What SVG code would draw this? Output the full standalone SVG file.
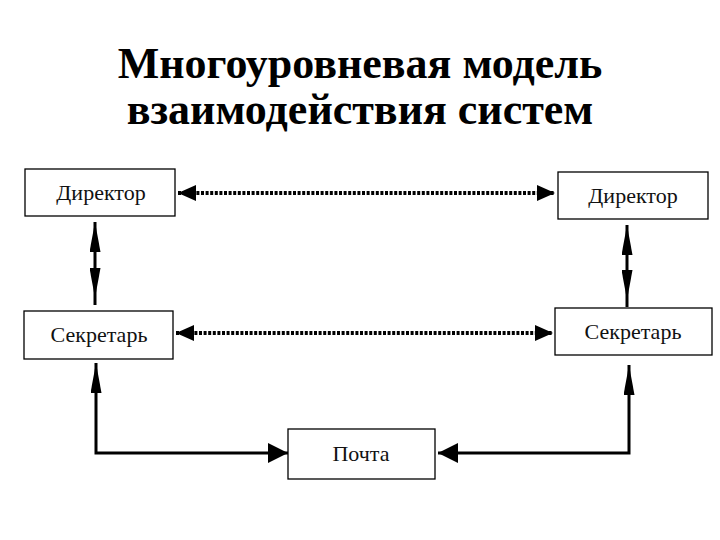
<svg xmlns="http://www.w3.org/2000/svg" width="720" height="540" viewBox="0 0 720 540">
<style>
.box{fill:#fff;stroke:#000;stroke-width:1.3}
.lbl{font-family:"Liberation Serif","Times New Roman",serif;font-size:22px;fill:#111;text-anchor:middle}
.title{font-family:"Liberation Serif","Times New Roman",serif;font-size:44px;font-weight:bold;fill:#000;text-anchor:middle}
.dot{fill:none;stroke:#000;stroke-width:4;stroke-dasharray:3 1.6}
.sol{fill:none;stroke:#000;stroke-width:3}
</style>
<defs>
<marker id="hd" markerUnits="userSpaceOnUse" markerWidth="18" markerHeight="16" refX="18" refY="8" orient="auto-start-reverse" viewBox="0 0 18 16">
<path d="M0,0 L18,8 L0,16 z" fill="#000"/>
</marker>
<marker id="hv" markerUnits="userSpaceOnUse" markerWidth="30" markerHeight="11" refX="30" refY="5.5" orient="auto-start-reverse" viewBox="0 0 30 11">
<path d="M0,0 L30,5.5 L0,11 z" fill="#000"/>
</marker>
<marker id="hb" markerUnits="userSpaceOnUse" markerWidth="20" markerHeight="20" refX="20" refY="10" orient="auto-start-reverse" viewBox="0 0 20 20">
<path d="M0,0 L20,10 L0,20 z" fill="#000"/>
</marker>
</defs>
<text class="title" x="360" y="78">Многоуровневая модель</text>
<text class="title" x="360" y="124">взаимодействия систем</text>
<g id="connectors">
<path class="dot" d="M178,193 L555,193" marker-start="url(#hd)" marker-end="url(#hd)"/>
<path class="dot" d="M176,333 L553,333" marker-start="url(#hd)" marker-end="url(#hd)"/>
<path class="sol" d="M95,222 L95,298 L95,305" marker-start="url(#hv)" marker-mid="url(#hv)"/>
<path class="sol" d="M627,225 L627,300 L627,307" marker-start="url(#hv)" marker-mid="url(#hv)"/>
<path class="sol" d="M96,363 L96,453 L288,453" stroke-width="4" marker-start="url(#hv)" marker-end="url(#hb)"/>
<path class="sol" d="M629,365 L629,453 L438,453" stroke-width="6" marker-start="url(#hv)" marker-end="url(#hb)"/>
</g>
<g id="dir-left"><rect class="box" x="25" y="169" width="150" height="47"/><text class="lbl" x="101" y="200">Директор</text></g>
<g id="sec-left"><rect class="box" x="24" y="311" width="149" height="48"/><text class="lbl" x="99" y="342">Секретарь</text></g>
<g id="dir-right"><rect class="box" x="558" y="172" width="150" height="47"/><text class="lbl" x="633" y="203">Директор</text></g>
<g id="sec-right"><rect class="box" x="555" y="308" width="157" height="47"/><text class="lbl" x="633" y="339">Секретарь</text></g>
<g id="pochta"><rect class="box" x="288" y="429" width="147" height="50"/><text class="lbl" x="361" y="461">Почта</text></g>
</svg>
